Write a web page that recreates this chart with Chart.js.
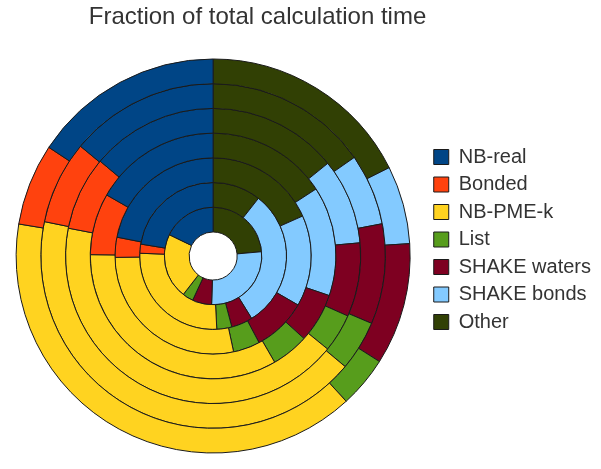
<!DOCTYPE html>
<html>
<head>
<meta charset="utf-8">
<script src="https://cdn.jsdelivr.net/npm/chart.js@4.4.1/dist/chart.umd.min.js"></script>
<style>
  html, body { margin: 0; padding: 0; background: #fff; }
  #wrap { width: 601px; height: 469px; }
</style>
</head>
<body>
<div id="wrap"><canvas id="time-chart" width="601" height="469"></canvas></div>
<script>
// legend order; the rings run clockwise from the top in the opposite order
const categories = ["NB-real", "Bonded", "NB-PME-k", "List", "SHAKE waters", "SHAKE bonds", "Other"];

const colors = ["#004586", "#ff420e", "#ffd320", "#579d1c", "#7e0021", "#83caff", "#314004"];

// percent of total calculation time, one array per ring, innermost first
const ring1 = [17.8, 0.0, 21.7, 3.6, 6.4, 26.9, 23.6];
const ring2 = [22.4, 2.0, 26.4, 3.3, 4.7, 30.6, 10.6];
const ring3 = [21.9, 3.3, 28.1, 4.4, 8.9, 15.0, 18.3];
const ring4 = [16.7, 8.1, 33.5, 4.9, 6.5, 14.4, 15.8];
const ring5 = [13.9, 8.1, 42.2, 4.2, 8.1, 9.4, 14.2];
const ring6 = [14.0, 7.8, 42.1, 4.7, 9.4, 6.7, 15.3];
const ring7 = [15.7, 6.7, 39.4, 4.2, 10.0, 6.4, 17.6];

// chart.js puts dataset 0 on the outside
const rings = [ring7, ring6, ring5, ring4, ring3, ring2, ring1];

const flip = (arr) => arr.slice().reverse();

Chart.defaults.font.family = "'Liberation Sans', Arial, sans-serif";
Chart.defaults.color = "#333333";

const chartData = {
  labels: flip(categories),
  datasets: rings.map((ring, i) => ({
    label: "ring " + (7 - i),
    data: flip(ring),
    backgroundColor: flip(colors),
    borderColor: "#1a1a1a",
    borderWidth: 1,
  })),
};

const chartOptions = {
  responsive: false,
  animation: false,
  radius: 197,
  cutout: "12.2%",
  layout: {
    padding: { top: 10, bottom: 0, left: -3.5, right: 0 },
  },
  plugins: {
    title: {
      display: true,
      text: "Fraction of total calculation time",
      align: "end",
      fullSize: false,
      color: "#333333",
      font: { size: 24, weight: "normal" },
      padding: { top: -6.9, bottom: 11.1 },
    },
    legend: {
      position: "right",
      reverse: true,
      labels: {
        boxWidth: 15,
        boxHeight: 15,
        padding: 7.5,
        color: "#333333",
        font: { size: 20 },
      },
    },
    tooltip: { enabled: false },
  },
};

new Chart(document.querySelector("#time-chart"), {
  type: "doughnut",
  data: chartData,
  options: chartOptions,
});
</script>
</body>
</html>
